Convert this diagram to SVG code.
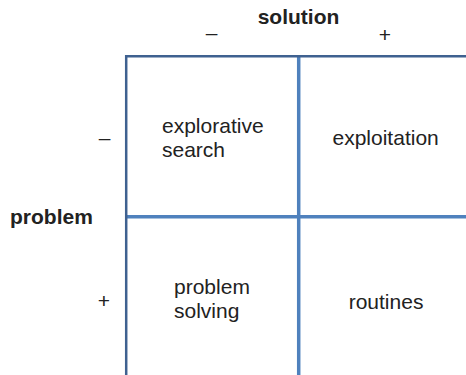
<svg xmlns="http://www.w3.org/2000/svg" width="466" height="375" viewBox="0 0 466 375">
<style>
text{font-family:"Liberation Sans",Arial,Helvetica,sans-serif;font-size:21px;fill:#222}
.b{font-weight:bold}
.m{text-anchor:middle}
.outer{stroke:#3f6190;stroke-width:2.5;fill:none}
.inner{stroke:#4f81bd;stroke-width:3.5;fill:none}
</style>
<rect width="466" height="375" fill="#fff"/>
<g id="grid">
<line class="inner" x1="298.7" y1="56" x2="298.7" y2="375"/>
<line class="inner" x1="126" y1="216.7" x2="466" y2="216.7"/>
<path class="outer" d="M126.2 375 V56.2 H466"/>
</g>
<g id="axis-solution">
<text class="b m" x="298.5" y="24">solution</text>
<text class="m" x="211.5" y="39.5">–</text>
<text class="m" x="385" y="41.5">+</text>
</g>
<g id="axis-problem">
<text class="b" x="10" y="224.3">problem</text>
<text class="m" x="104.5" y="145">–</text>
<text class="m" x="104" y="307.5">+</text>
</g>
<g id="cell-explorative-search">
<text x="162" y="133">explorative</text>
<text x="162" y="157">search</text>
</g>
<g id="cell-exploitation">
<text x="332.5" y="145">exploitation</text>
</g>
<g id="cell-problem-solving">
<text x="174" y="294.3">problem</text>
<text x="174" y="318.3">solving</text>
</g>
<g id="cell-routines">
<text x="348.7" y="309">routines</text>
</g>
</svg>
